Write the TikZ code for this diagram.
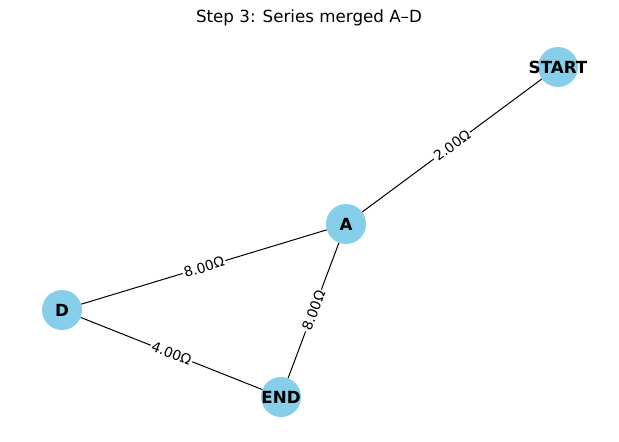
\documentclass[tikz,border=0pt]{standalone}
\usepackage{fontspec}
\setmainfont{DejaVu Sans}
\usetikzlibrary{positioning}
\definecolor{skyblue}{HTML}{87CEEB}

\tikzset{
  vertex/.style={circle, fill=skyblue, minimum size=40pt, inner sep=0pt,
    label={[font=\fontsize{16.7}{18}\selectfont\bfseries, inner sep=0pt]center:#1}},
  wire/.style={black, line width=1pt},
  ohm/.style={fill=white, inner sep=1.5pt, sloped, font=\fontsize{13.9}{15}\selectfont}
}

\begin{document}
\begin{tikzpicture}[x=1pt, y=-1pt]
\useasboundingbox (0,0) rectangle (619,442);
\node[font=\fontsize{16.7}{18}\selectfont] (title) at (309,18) {Step 3: Series merged A–D};
% nodes
\node[vertex=START] (start) at (558,67) {};
\node[vertex=A] (A) at (346,224) {};
\node[vertex=D] (D) at (62,310) {};
\node[vertex=END] (end) at (281,397) {};
% resistors
\draw[wire] (A) -- node[ohm] {2.00Ω} (start);
\draw[wire] (D) -- node[ohm] {8.00Ω} (A);
\draw[wire] (end) -- node[ohm] {8.00Ω} (A);
\draw[wire] (D) -- node[ohm] {4.00Ω} (end);
\end{tikzpicture}
\end{document}
